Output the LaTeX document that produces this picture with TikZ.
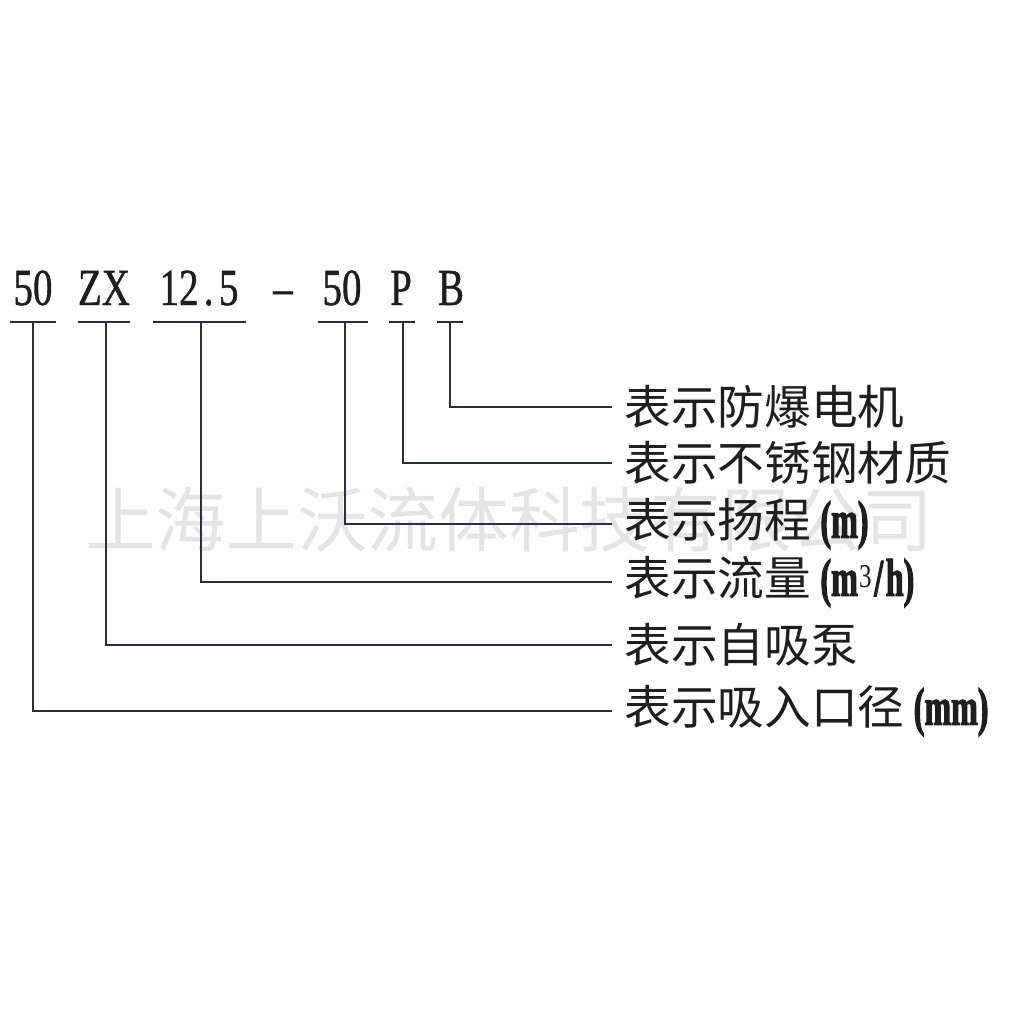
\documentclass[tikz,border=0pt]{standalone}
\usepackage{fontspec}
\setmainfont{Liberation Serif}
\newfontfamily\cjk{Noto Sans CJK SC}
\newfontfamily\codefont[FakeStretch=0.75,FakeBold=0.8]{Liberation Serif}
\newfontfamily\unitfont[FakeStretch=0.6,FakeBold=2]{Liberation Serif}
\newfontfamily\supfont[FakeStretch=0.75]{Liberation Serif}

\definecolor{inkline}{RGB}{45,45,65}
\definecolor{inktext}{RGB}{30,30,30}
\definecolor{stamp}{RGB}{228,228,228}

\newcommand{\unitpart}[1]{\hspace{7pt}{\unitfont\bfseries\fontsize{40}{40}\selectfont #1}}

\tikzset{every picture/.style={line width=0.75pt}}
\tikzset{
  codetext/.style={anchor=base,inner sep=0pt,text=inktext,font=\codefont\fontsize{39}{39}\selectfont},
  meaning/.style={anchor=west,inner xsep=9pt,inner ysep=0pt,text=inktext,font=\cjk\fontsize{35}{40}\selectfont},
  leader/.style={color=inkline,line width=1.5pt},
  watermark/.style={text=stamp,inner sep=0pt,font=\cjk\fontsize{53}{53}\selectfont},
}

\begin{document}
\begin{tikzpicture}[x=0.75pt,y=0.75pt,yscale=-1,xscale=1]
\useasboundingbox (0,0) rectangle (1014,1014);

% Text Node (watermark)
\node[watermark] (stampText) at (509,520) {上海上沃流体科技有限公司};

% Text Node
\node[codetext] (bore) at (33,305) {50};
% Text Node
\node[codetext] (selfpump) at (104,305) {ZX};
% Text Node
\node[codetext] (flow) at (199,305) {12\kern4pt.\kern4pt5};
% Text Node
\node[codetext] (dash) at (283,305) {–};
% Text Node
\node[codetext] (head) at (342,305) {50};
% Text Node
\node[codetext] (steel) at (401,305) {P};
% Text Node
\node[codetext] (motor) at (451,305) {B};

%Coordinates of the underlines
\coordinate (boreL) at (10,322);  \coordinate (boreM) at (33,322);  \coordinate (boreR) at (56,322);
\coordinate (selfL) at (78,322);  \coordinate (selfM) at (106,322); \coordinate (selfR) at (130,322);
\coordinate (flowL) at (153,322); \coordinate (flowM) at (201,322); \coordinate (flowR) at (246,322);
\coordinate (headL) at (318,322); \coordinate (headM) at (345,322); \coordinate (headR) at (368,322);
\coordinate (steelL) at (389,322); \coordinate (steelM) at (403,322); \coordinate (steelR) at (415,322);
\coordinate (motorL) at (437,322); \coordinate (motorM) at (450,322); \coordinate (motorR) at (463,322);

%Straight Lines
\draw[leader] (boreL) -- (boreR);
\draw[leader] (selfL) -- (selfR);
\draw[leader] (flowL) -- (flowR);
\draw[leader] (headL) -- (headR);
\draw[leader] (steelL) -- (steelR);
\draw[leader] (motorL) -- (motorR);

% Text Node
\node[meaning] (lblMotor) at (612,407) {表示防爆电机};
% Text Node
\node[meaning] (lblSteel) at (612,463) {表示不锈钢材质};
% Text Node
\node[meaning] (lblHead) at (612,524) {表示扬程\unitpart{(m)}};
% Text Node
\node[meaning] (lblFlow) at (612,582) {表示流量\unitpart{(m\kern1pt\raisebox{6pt}{\supfont\mdseries\fontsize{25}{25}\selectfont 3}\kern2pt/\kern2pt h)}};
% Text Node
\node[meaning] (lblSelf) at (612,645) {表示自吸泵};
% Text Node
\node[meaning] (lblBore) at (612,711) {表示吸入口径\unitpart{(mm)}};

%Straight Lines
\draw[leader] (motorM) |- (lblMotor.west);
\draw[leader] (steelM) |- (lblSteel.west);
\draw[leader] (headM) |- (lblHead.west);
\draw[leader] (flowM) |- (lblFlow.west);
\draw[leader] (selfM) |- (lblSelf.west);
\draw[leader] (boreM) |- (lblBore.west);

\end{tikzpicture}
\end{document}
